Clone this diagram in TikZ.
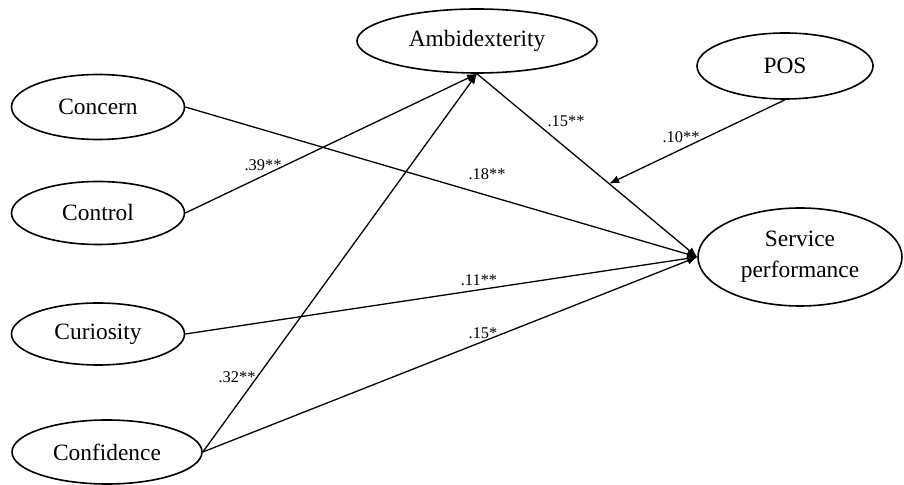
\documentclass[tikz,border=0pt]{standalone}
\usepackage{fontspec}
\setmainfont{Liberation Serif}
\usetikzlibrary{shapes.geometric,arrows.meta,calc}
\begin{document}
\begin{tikzpicture}[x=0.5pt,y=-0.5pt,
  latent/.style={ellipse,draw,line width=0.8pt,inner sep=0pt,
    font=\fontsize{11.7}{15.5}\selectfont,align=center},
  pathline/.style={line width=0.65pt,-{Latex[length=5pt,width=4pt]}},
  coef/.style={font=\fontsize{8.2}{10}\selectfont,inner sep=0pt}]
\useasboundingbox (0,0) rectangle (904,485);
\node[latent,minimum width=120pt,minimum height=32pt] (amb) at (477,41) {Ambidexterity};
\node[latent,minimum width=88pt,minimum height=33pt] (pos) at (785,66) {POS};
\node[latent,minimum width=86.5pt,minimum height=32.5pt] (con) at (98,107) {Concern};
\node[latent,minimum width=86.5pt,minimum height=31.5pt] (ctl) at (98,213) {Control};
\node[latent,minimum width=86.5pt,minimum height=31pt] (cur) at (98,334) {Curiosity};
\node[latent,minimum width=95pt,minimum height=32pt] (cfd) at (107,452) {Confidence};
\node[latent,minimum width=102pt,minimum height=49pt] (sp) at (800,257) {Service\\performance};

\coordinate (mod) at ($(amb.south)!0.6!(sp.west)$);

\draw[pathline] (con.east) -- (sp.west);
\draw[pathline] (ctl.east) -- (amb.south);
\draw[pathline] (cur.east) -- (sp.west);
\draw[pathline] (cfd.east) -- (amb.south);
\draw[pathline] (cfd.east) -- (sp.west);
\draw[pathline] (amb.south) -- (sp.west);
\draw[pathline] (pos.south) -- (mod);

\node[coef] (l39) at (263,165) {.39**};
\node[coef] (l18) at (487,174) {.18**};
\node[coef] (l11) at (479,280) {.11**};
\node[coef] (l15b) at (483,333) {.15*};
\node[coef] (l32) at (237,377) {.32**};
\node[coef] (l15a) at (566,121) {.15**};
\node[coef] (l10) at (681,137) {.10**};
\end{tikzpicture}
\end{document}
